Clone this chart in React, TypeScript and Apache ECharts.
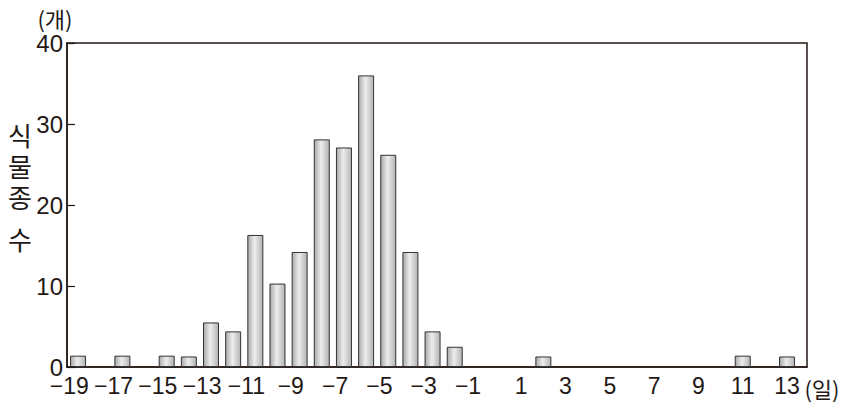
import React, { useEffect, useRef } from "react";
import * as echarts from "echarts";

const days = [-19, -17, -15, -14, -13, -12, -11, -10, -9, -8, -7, -6, -5, -4, -3, -2, 2, 11, 13];
const speciesCounts = [1.4, 1.4, 1.4, 1.3, 5.5, 4.4, 16.3, 10.3, 14.2, 28.1, 27.1, 36, 26.2, 14.2, 4.4, 2.5, 1.3, 1.4, 1.3];
const negativeTickLabels = [-19, -17, -15, -13, -11, -9, -7, -5, -3, -1];
const positiveTickLabels = [1, 3, 5, 7, 9, 11, 13];
const yTicks = [0, 10, 20, 30, 40];
const yNameChars = ["식", "물", "종", "수"];

const NUM_FONT = '"Liberation Sans Narrow", "Liberation Sans", Arial, sans-serif';
const KR_FONT = '"Noto Sans CJK KR", "Noto Sans", sans-serif';
const INK = "#231815";

const X_MIN = -19.5;
const X_MAX = 13.9;
// negative labels: digits centred on the tick, minus sign hanging to the left
const NEG_SHIFT = 0.4;

export default function App() {
  const ref = useRef<HTMLDivElement>(null);
  useEffect(() => {
    if (!ref.current) return;
    const chart = echarts.init(ref.current, null, { renderer: "svg" });
    const fmt = (v: number) => (v < 0 ? "\u2212" + Math.abs(v) : String(v));
    const nameY = [134, 165, 196, 238];
    const labelBase = {
      showMinLabel: true,
      showMaxLabel: true,
      hideOverlap: false,
      formatter: (v: number) => fmt(v),
      fontFamily: NUM_FONT,
      fontSize: 23,
      lineHeight: 18,
      color: INK,
      margin: 10,
    };
    chart.setOption({
      animation: false,
      backgroundColor: "#ffffff",
      grid: {
        left: 67,
        right: 54,
        top: 43,
        bottom: 41,
        show: true,
        borderColor: INK,
        borderWidth: 1.5,
        backgroundColor: "transparent",
      },
      xAxis: [
        {
          type: "value",
          min: X_MIN,
          max: X_MAX,
          splitLine: { show: false },
          axisTick: { show: false },
          axisLine: { show: true, onZero: false, lineStyle: { color: INK, width: 1.5 } },
          axisLabel: { ...labelBase, customValues: positiveTickLabels },
        },
        {
          type: "value",
          position: "bottom",
          min: X_MIN + NEG_SHIFT,
          max: X_MAX + NEG_SHIFT,
          splitLine: { show: false },
          axisTick: { show: false },
          axisLine: { show: false, onZero: false },
          axisLabel: { ...labelBase, customValues: negativeTickLabels },
        },
      ],
      yAxis: {
        type: "value",
        min: yTicks[0],
        max: yTicks[yTicks.length - 1],
        interval: 10,
        splitLine: { show: false },
        axisLine: { show: true, onZero: false, lineStyle: { color: INK, width: 1.5 } },
        axisTick: { show: true, inside: true, length: 8, lineStyle: { color: INK, width: 1.2 } },
        axisLabel: {
          fontFamily: NUM_FONT,
          fontSize: 24,
          lineHeight: 16,
          color: INK,
          margin: 4,
        },
      },
      graphic: [
        {
          type: "text",
          x: 55,
          y: 18,
          style: { text: "(개)", fontFamily: KR_FONT, fontSize: 22, fill: INK, align: "center", verticalAlign: "middle" },
        },
        {
          type: "text",
          x: 822,
          y: 388,
          style: { text: "(일)", fontFamily: KR_FONT, fontSize: 22, fill: INK, align: "center", verticalAlign: "middle" },
        },
        ...yNameChars.map((c, i) => ({
          type: "text",
          x: 20,
          y: nameY[i],
          style: { text: c, fontFamily: KR_FONT, fontSize: 26, fill: INK, align: "center", verticalAlign: "middle" },
        })),
      ],
      series: [
        {
          type: "bar",
          xAxisIndex: 0,
          data: days.map((d, i) => [d, speciesCounts[i]]),
          barWidth: 16,
          itemStyle: {
            color: new echarts.graphic.LinearGradient(0, 0, 1, 0, [
              { offset: 0, color: "#a9a9a9" },
              { offset: 0.45, color: "#ededed" },
              { offset: 1, color: "#b3b3b3" },
            ]),
            borderColor: "#333333",
            borderWidth: 1,
          },
        },
      ],
    });
    return () => chart.dispose();
  }, []);
  return <div ref={ref} style={{ width: 861, height: 408, position: "absolute", left: 0, top: 0 }} />;
}
